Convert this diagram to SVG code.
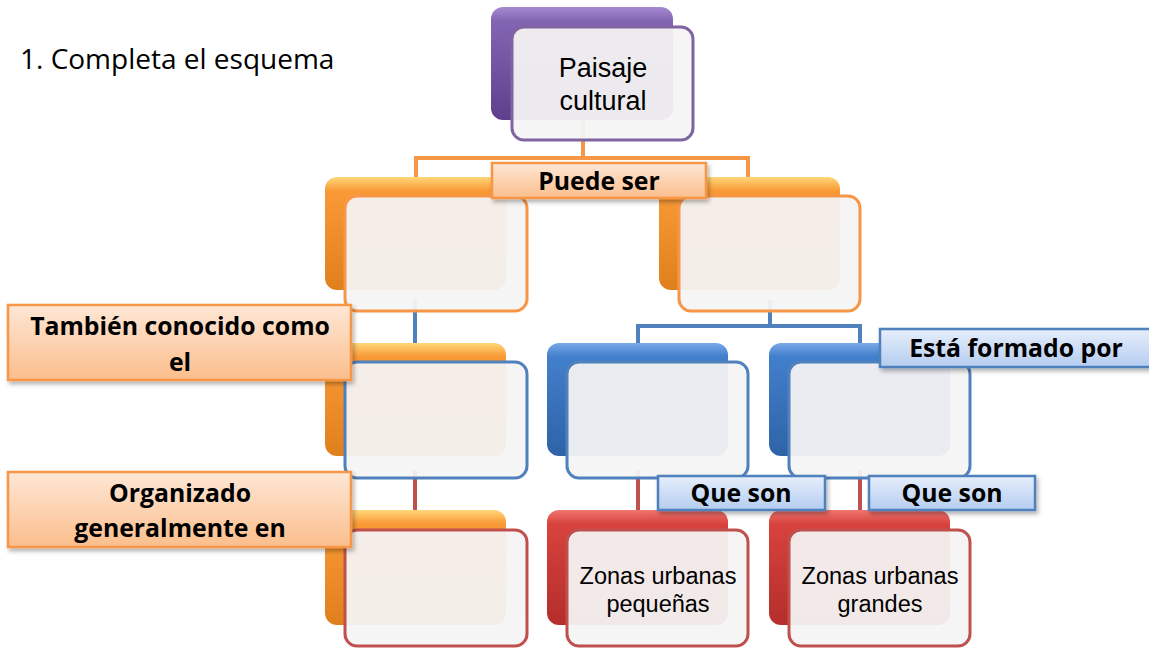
<svg xmlns="http://www.w3.org/2000/svg" width="1149" height="648" viewBox="0 0 1149 648">
<defs>
<linearGradient id="gPurple" x1="0" y1="0" x2="0" y2="1"><stop offset="0" stop-color="#a58bd0"/><stop offset="0.12" stop-color="#8366b3"/><stop offset="1" stop-color="#5e3f8c"/></linearGradient>
<linearGradient id="gOrange" x1="0" y1="0" x2="0" y2="1"><stop offset="0" stop-color="#ffd77a"/><stop offset="0.12" stop-color="#f99a36"/><stop offset="1" stop-color="#e0801c"/></linearGradient>
<linearGradient id="gBlue" x1="0" y1="0" x2="0" y2="1"><stop offset="0" stop-color="#79a9e8"/><stop offset="0.12" stop-color="#427fcc"/><stop offset="1" stop-color="#2e63a6"/></linearGradient>
<linearGradient id="gRed" x1="0" y1="0" x2="0" y2="1"><stop offset="0" stop-color="#f07671"/><stop offset="0.12" stop-color="#d8423d"/><stop offset="1" stop-color="#b42e2b"/></linearGradient>
<linearGradient id="gFront" x1="0" y1="0" x2="0" y2="1"><stop offset="0" stop-color="#f5f3f3"/><stop offset="1" stop-color="#f5f5f5"/></linearGradient>
<linearGradient id="gLabO" x1="0" y1="0" x2="0" y2="1"><stop offset="0" stop-color="#fee7d6"/><stop offset="1" stop-color="#fbbe8c"/></linearGradient>
<linearGradient id="gLabB" x1="0" y1="0" x2="0" y2="1"><stop offset="0" stop-color="#e6eefb"/><stop offset="1" stop-color="#b5cdf0"/></linearGradient>
<filter id="sh" x="-10%" y="-20%" width="130%" height="150%"><feDropShadow dx="2" dy="3" stdDeviation="2" flood-color="#000" flood-opacity="0.3"/></filter>
</defs>
<style>
.front{fill:url(#gFront);fill-opacity:0.94;stroke-width:3}
.fp{stroke:#8064a2}.fo{stroke:#f79646}.fb{stroke:#4f81bd}.fr{stroke:#c0504d}
.lo{fill:url(#gLabO);stroke:#f79646;stroke-width:2.5;filter:url(#sh)}
.lb{fill:url(#gLabB);stroke:#4f81bd;stroke-width:2.5;filter:url(#sh)}
.t{font-family:"Open Sans","Liberation Sans",Arial,sans-serif;fill:#000;text-anchor:middle}
.l{font-family:"Liberation Sans",Arial,sans-serif;fill:#000;text-anchor:middle}
.b{font-weight:bold;font-size:24.8px}
.n{font-size:23.5px}
.con{fill:none;stroke-width:4}
</style>
<text x="20" y="69" font-family="Open Sans, Liberation Sans, Arial, sans-serif" font-size="28" fill="#000">1. Completa el esquema</text>
<g id="connectors">
<path class="con" stroke="#f79646" d="M583 120V158M416 178V158H748V178"/>
<path class="con" stroke="#4f81bd" d="M415 300V343M770 300V326M638 343V326H860V343"/>
<path class="con" stroke="#c0504d" d="M415 470V510M638 470V510M860 470V510"/>
</g>
<g id="n-paisaje">
<rect x="491" y="7" width="182" height="113" rx="12" fill="url(#gPurple)"/>
<rect class="front fp" x="512" y="27" width="181" height="113" rx="12"/>
<text class="l" x="603" y="77" font-size="27">Paisaje</text>
<text class="l" x="603" y="110" font-size="27">cultural</text>
</g>
<g id="n-left1">
<rect x="325" y="177" width="181" height="113" rx="12" fill="url(#gOrange)"/>
<rect class="front fo" x="345" y="196" width="182" height="115" rx="12"/>
</g>
<g id="n-right1">
<rect x="659" y="177" width="181" height="113" rx="12" fill="url(#gOrange)"/>
<rect class="front fo" x="679" y="196" width="181" height="115" rx="12"/>
</g>
<g id="n-left2">
<rect x="325" y="343" width="181" height="113" rx="12" fill="url(#gOrange)"/>
<rect class="front fb" x="345" y="362" width="182" height="116" rx="12"/>
</g>
<g id="n-left3">
<rect x="325" y="510" width="181" height="115" rx="12" fill="url(#gOrange)"/>
<rect class="front fr" x="345" y="530" width="182" height="116" rx="12"/>
</g>
<g id="n-blue1">
<rect x="547" y="343" width="181" height="113" rx="12" fill="url(#gBlue)"/>
<rect class="front fb" x="567" y="362" width="181" height="116" rx="12"/>
</g>
<g id="n-blue2">
<rect x="769" y="343" width="181" height="113" rx="12" fill="url(#gBlue)"/>
<rect class="front fb" x="789" y="362" width="181" height="116" rx="12"/>
</g>
<g id="n-red1">
<rect x="547" y="510" width="181" height="115" rx="12" fill="url(#gRed)"/>
<rect class="front fr" x="567" y="530" width="181" height="116" rx="12"/>
<text class="l n" x="658" y="584">Zonas urbanas</text>
<text class="l n" x="658" y="612">pequeñas</text>
</g>
<g id="n-red2">
<rect x="769" y="510" width="181" height="115" rx="12" fill="url(#gRed)"/>
<rect class="front fr" x="789" y="530" width="181" height="116" rx="12"/>
<text class="l n" x="880" y="584">Zonas urbanas</text>
<text class="l n" x="880" y="612">grandes</text>
</g>
<g id="l-puede">
<rect class="lo" x="492" y="163" width="214" height="35"/>
<text class="t b" x="599" y="190">Puede ser</text>
</g>
<g id="l-tambien">
<rect class="lo" x="8" y="305" width="343" height="75"/>
<text class="t b" x="180" y="335">También conocido como</text>
<text class="t b" x="180" y="371">el</text>
</g>
<g id="l-organizado">
<rect class="lo" x="8" y="472" width="343" height="75"/>
<text class="t b" x="180" y="502">Organizado</text>
<text class="t b" x="180" y="537">generalmente en</text>
</g>
<g id="l-esta">
<rect class="lb" x="880" y="329" width="271" height="38"/>
<text class="t b" x="1016" y="357">Está formado por</text>
</g>
<g id="l-queson1">
<rect class="lb" x="658" y="476" width="167" height="34"/>
<text class="t b" x="741" y="502">Que son</text>
</g>
<g id="l-queson2">
<rect class="lb" x="869" y="476" width="166" height="34"/>
<text class="t b" x="952" y="502">Que son</text>
</g>
</svg>
